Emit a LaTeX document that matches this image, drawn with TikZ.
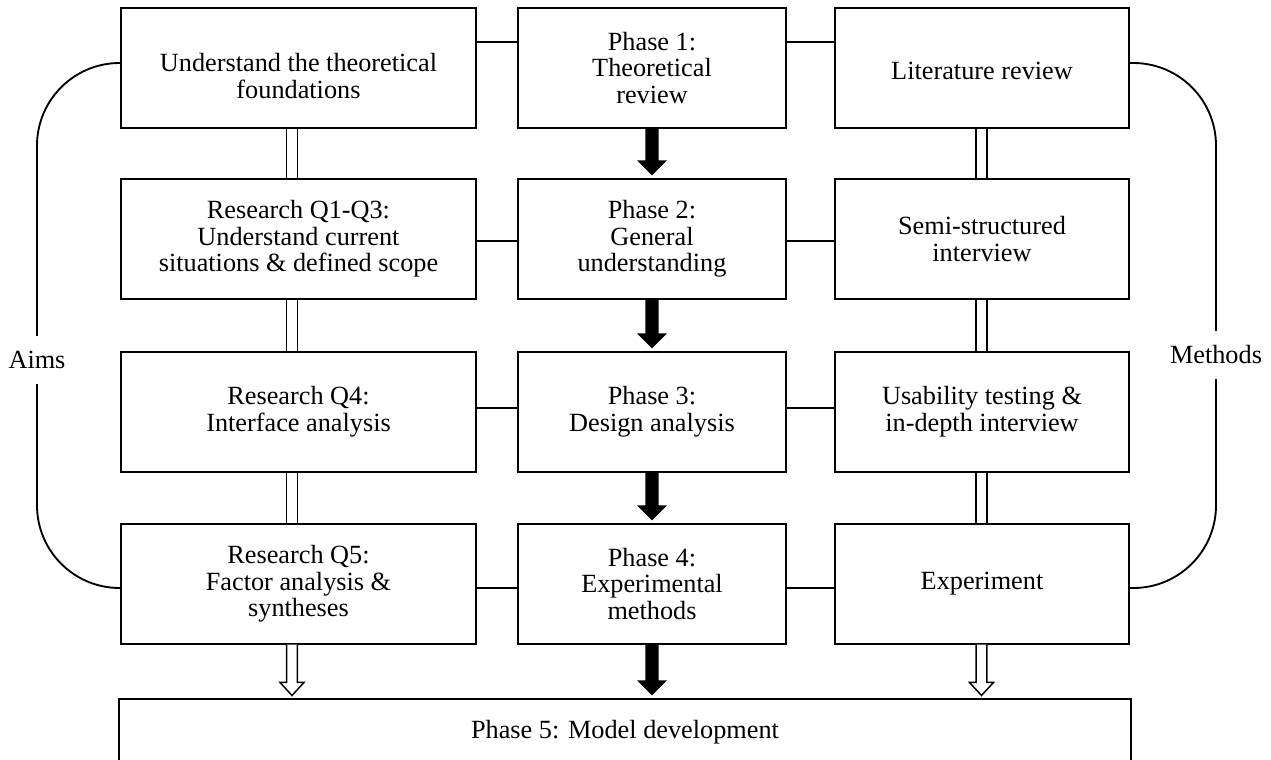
\documentclass[tikz,border=0pt]{standalone}
\usepackage{fontspec}
\setmainfont{Liberation Serif}
\usetikzlibrary{calc}
\newcommand\blackarr[2]{%
  \fill let \p1=(#1.south), \p2=(#2.north) in
    (\x1-5pt,\y1) -- (\x1-5pt,\y2+13.5pt) -- (\x1-11.25pt,\y2+13.5pt) -- (\x1,\y2+2.25pt)
    -- (\x1+11.25pt,\y2+13.5pt) -- (\x1+5pt,\y2+13.5pt) -- (\x1+5pt,\y1) -- cycle;}
\newcommand\hollowarr[3]{%
  \filldraw[fill=white,line width=1.1pt,line join=miter] let \p1=(#1.south -| #3), \p2=(#2.north) in
    (\x1-4pt,\y1) -- (\x1-4pt,\y2+12pt) -- (\x1-9pt,\y2+12pt) -- (\x1,\y2+2.25pt)
    -- (\x1+9pt,\y2+12pt) -- (\x1+4pt,\y2+12pt) -- (\x1+4pt,\y1);}
\begin{document}
\begin{tikzpicture}[x=0.75pt,y=-0.75pt,
  every node/.style={font=\fontsize{19.7}{20}\selectfont},
  box/.style={draw,line width=0.8pt,inner sep=0pt,align=center,minimum height=90pt},
  lbox/.style={box,minimum width=266.25pt},
  mbox/.style={box,minimum width=201pt},
  rbox/.style={box,minimum width=220.5pt},
  conn/.style={line width=1.4pt},
  dbl/.style={double,line width=1.1pt,double distance=6.9pt},
  side/.style={line width=1.4pt,rounded corners=62pt},
  sidelabel/.style={fill=white,inner xsep=2pt,inner ysep=11.25pt}]
\clip (0,0) rectangle (1271,760);
% column coordinates
\coordinate (lx) at (292,0);
\coordinate (rx) at (981.5,0);
\coordinate (aimsx) at (37,360);
\coordinate (methx) at (1216,355);
% boxes
\node[lbox,label={[align=center,yshift=-6pt]center:{Understand the theoretical\\foundations}}] (L1) at (298.5,68) {};
\node[mbox] (M1) at (652,68) {Phase 1:\\Theoretical\\review};
\node[rbox,label={[yshift=-2.25pt]center:{Literature review}}] (R1) at (982,68) {};
\node[lbox] (L2) at (298.5,239) {Research Q1-Q3:\\Understand current\\situations \& defined scope};
\node[mbox] (M2) at (652,239) {Phase 2:\\General\\understanding};
\node[rbox] (R2) at (982,239) {Semi-structured\\interview};
\node[lbox] (L3) at (298.5,412) {Research Q4:\\Interface analysis};
\node[mbox] (M3) at (652,412) {Phase 3:\\Design analysis};
\node[rbox] (R3) at (982,412) {Usability testing \&\\in-depth interview};
\node[lbox] (L4) at (298.5,584) {Research Q5:\\Factor analysis \&\\syntheses};
\node[mbox] (M4) at (652,584) {Phase 4:\\Experimental\\methods};
\node[rbox] (R4) at (982,584) {Experiment};
\node[box,minimum width=759pt,minimum height=49.5pt] (P5) at (625,732) {Phase 5: Model development};
% horizontal connectors
\draw[conn] ([yshift=19.5pt]L1.east) -- ([yshift=19.5pt]M1.west);
\draw[conn] ([yshift=19.5pt]M1.east) -- ([yshift=19.5pt]R1.west);
\draw[conn] ([yshift=-1.5pt]L2.east) -- ([yshift=-1.5pt]M2.west);
\draw[conn] ([yshift=-1.5pt]M2.east) -- ([yshift=-1.5pt]R2.west);
\draw[conn] ([yshift=3pt]L3.east) -- ([yshift=3pt]M3.west);
\draw[conn] ([yshift=3pt]M3.east) -- ([yshift=3pt]R3.west);
\draw[conn] ([yshift=-3pt]L4.east) -- ([yshift=-3pt]M4.west);
\draw[conn] ([yshift=-3pt]M4.east) -- ([yshift=-3pt]R4.west);
% double lines
\draw[dbl] (L1.south -| lx) -- (L2.north -| lx);
\draw[dbl] (L2.south -| lx) -- (L3.north -| lx);
\draw[dbl] (L3.south -| lx) -- (L4.north -| lx);
\draw[dbl] (R1.south -| rx) -- (R2.north -| rx);
\draw[dbl] (R2.south -| rx) -- (R3.north -| rx);
\draw[dbl] (R3.south -| rx) -- (R4.north -| rx);
% thick black arrows
\blackarr{M1}{M2}
\blackarr{M2}{M3}
\blackarr{M3}{M4}
\blackarr{M4}{P5}
% hollow arrows
\hollowarr{L4}{P5}{lx}
\hollowarr{R4}{P5}{rx}
% side brackets
\draw[side] ([yshift=3.75pt]L1.west) -| (aimsx) |- ([yshift=-3pt]L4.west);
\draw[side] ([yshift=3.75pt]R1.east) -| (methx) |- ([yshift=-3pt]R4.east);
\node[sidelabel] (aims) at (aimsx) {Aims};
\node[sidelabel] (meth) at (methx) {Methods};
\end{tikzpicture}
\end{document}
